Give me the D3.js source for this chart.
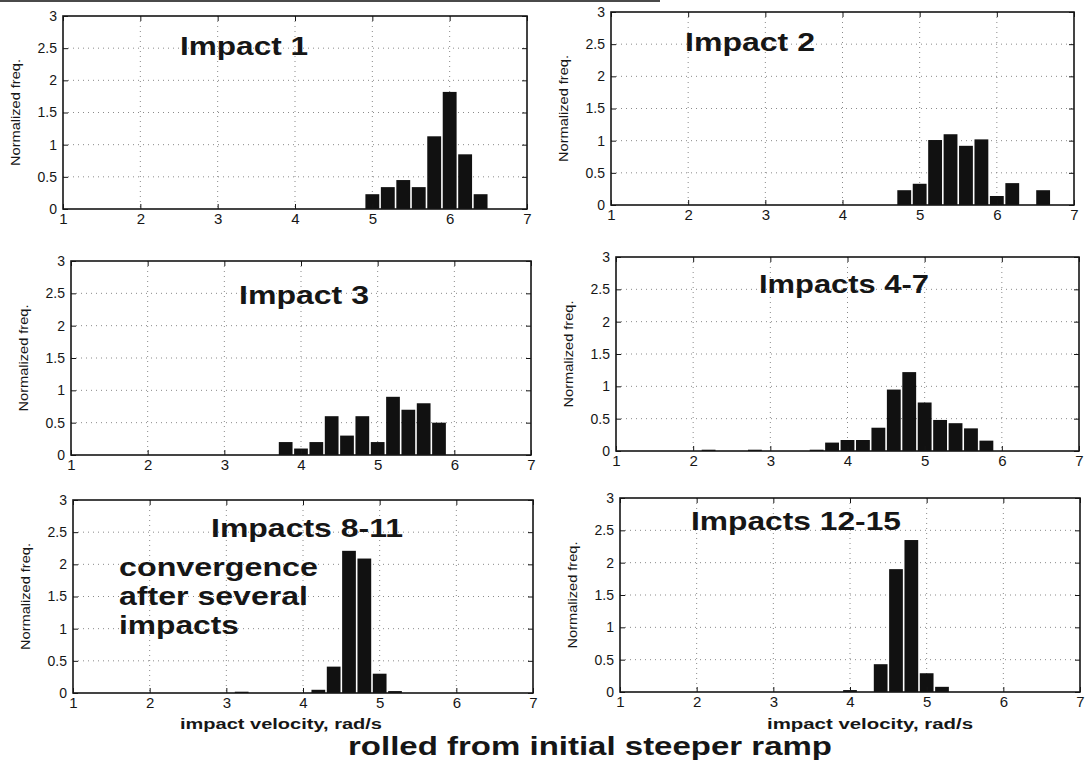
<!DOCTYPE html>
<html>
<head>
<meta charset="utf-8">
<script src="https://cdn.jsdelivr.net/npm/d3@7"></script>
<style>
  body { margin: 0; background: #fff; }
  svg { display: block; font-family: Arial, "Liberation Sans", sans-serif; }
</style>
</head>
<body>
<svg id="chart" width="1087" height="763"></svg>
<script>
// Histograms of impact velocity (rad/s), bin width 0.2, bins given by centre

const xTicks = [1, 2, 3, 4, 5, 6, 7];
const yTicks = [0, 0.5, 1, 1.5, 2, 2.5, 3];
const binWidth = 0.2;

const impact1Bins = [5.0, 5.2, 5.4, 5.6, 5.8, 6.0, 6.2, 6.4];
const impact1Freq = [0.23, 0.34, 0.45, 0.34, 1.13, 1.82, 0.85, 0.23];

const impact2Bins = [4.8, 5.0, 5.2, 5.4, 5.6, 5.8, 6.0, 6.2, 6.6];
const impact2Freq = [0.23, 0.33, 1.01, 1.10, 0.92, 1.02, 0.14, 0.34, 0.23];

const impact3Bins = [3.8, 4.0, 4.2, 4.4, 4.6, 4.8, 5.0, 5.2, 5.4, 5.6, 5.8];
const impact3Freq = [0.2, 0.1, 0.2, 0.6, 0.3, 0.6, 0.2, 0.9, 0.7, 0.8, 0.5];

const impacts4to7Bins = [2.2, 2.8, 3.6, 3.8, 4.0, 4.2, 4.4, 4.6, 4.8, 5.0, 5.2, 5.4, 5.6, 5.8];
const impacts4to7Freq = [0.02, 0.02, 0.02, 0.13, 0.17, 0.17, 0.36, 0.95, 1.22, 0.75, 0.48, 0.43, 0.35, 0.16];

const impacts8to11Bins = [3.2, 4.2, 4.4, 4.6, 4.8, 5.0, 5.2];
const impacts8to11Freq = [0.02, 0.05, 0.41, 2.21, 2.09, 0.30, 0.03];

const impacts12to15Bins = [4.0, 4.4, 4.6, 4.8, 5.0, 5.2];
const impacts12to15Freq = [0.03, 0.43, 1.90, 2.35, 0.29, 0.08];

const panelTitles = ["Impact 1", "Impact 2", "Impact 3", "Impacts 4-7", "Impacts 8-11", "Impacts 12-15"];
const yLabel = "Normalized freq.";
const xLabel = "impact velocity, rad/s";
const noteLines = ["convergence", "after several", "impacts"];
const footer = "rolled from initial steeper ramp";

// panel boxes [left, right, top, bottom] and title placement [x, baseline, width]
const panels = [
  { bins: impact1Bins, freq: impact1Freq, box: [63, 527, 16, 209], title: [180, 55, 128] },
  { bins: impact2Bins, freq: impact2Freq, box: [611, 1074, 12, 205], title: [685, 51, 130] },
  { bins: impact3Bins, freq: impact3Freq, box: [71, 531, 261, 455], title: [239, 304, 130] },
  { bins: impacts4to7Bins, freq: impacts4to7Freq, box: [616, 1079, 257, 451], title: [759, 293, 170] },
  { bins: impacts8to11Bins, freq: impacts8to11Freq, box: [73, 533, 500, 693], title: [211, 537, 192], xl: [180, 729, 202] },
  { bins: impacts12to15Bins, freq: impacts12to15Freq, box: [620, 1080, 498, 692], title: [691, 530, 210], xl: [767, 729, 206] }
];

const svg = d3.select("#chart");
const ink = "#161616";

// scanned page edge along the top
svg.append("rect").attr("x", 0).attr("y", 0).attr("width", 660).attr("height", 2).attr("fill", "#4a4a4a");

panels.forEach((p, i) => {
  const [x0, x1, yTop, yBot] = p.box;
  const x = d3.scaleLinear().domain([1, 7]).range([x0, x1]);
  const y = d3.scaleLinear().domain([0, 3]).range([yBot, yTop]);
  const g = svg.append("g");

  // dotted grid
  g.append("g").selectAll("line").data(xTicks.slice(1, -1)).join("line")
    .attr("x1", d => x(d)).attr("x2", d => x(d))
    .attr("y1", yTop).attr("y2", yBot)
    .attr("stroke", "#8a8a8a").attr("stroke-width", 1).attr("stroke-dasharray", "1,4");
  g.append("g").selectAll("line").data(yTicks.slice(1, -1)).join("line")
    .attr("x1", x0).attr("x2", x1)
    .attr("y1", d => y(d)).attr("y2", d => y(d))
    .attr("stroke", "#8a8a8a").attr("stroke-width", 1).attr("stroke-dasharray", "1,4");

  // bars
  const bw = x(1 + binWidth) - x(1);
  g.append("g").selectAll("rect").data(d3.zip(p.bins, p.freq)).join("rect")
    .attr("x", d => x(d[0] - binWidth / 2) + 0.8)
    .attr("width", bw - 1.6)
    .attr("y", d => y(d[1]))
    .attr("height", d => Math.max(yBot - y(d[1]), 0.8))
    .attr("fill", "#111");

  // axes, ticks pointing inward
  const styleAxis = sel => {
    sel.select(".domain").remove();
    sel.selectAll(".tick line").attr("stroke", ink).attr("stroke-width", 1);
    sel.selectAll(".tick text").attr("fill", ink);
  };
  g.append("g").attr("transform", `translate(0,${yBot})`)
    .call(d3.axisBottom(x).tickValues(xTicks).tickSize(-5).tickSizeOuter(0).tickPadding(4).tickFormat(d => d))
    .call(styleAxis)
    .selectAll("text").style("font-size", "15px").attr("font-family", null);
  g.append("g").attr("transform", `translate(${x0},0)`)
    .call(d3.axisLeft(y).tickValues(yTicks).tickSize(-5).tickSizeOuter(0).tickPadding(6).tickFormat(d => d))
    .call(styleAxis)
    .selectAll("text").style("font-size", "14px").attr("font-family", null);
  g.append("g").attr("transform", `translate(0,${yTop})`)
    .call(d3.axisTop(x).tickValues(xTicks).tickSize(-5).tickSizeOuter(0).tickFormat(""))
    .call(styleAxis);
  g.append("g").attr("transform", `translate(${x1},0)`)
    .call(d3.axisRight(y).tickValues(yTicks).tickSize(-5).tickSizeOuter(0).tickFormat(""))
    .call(styleAxis);

  // frame
  g.append("rect").attr("x", x0).attr("y", yTop).attr("width", x1 - x0).attr("height", yBot - yTop)
    .attr("fill", "none").attr("stroke", ink).attr("stroke-width", 1.6);

  // y title
  g.append("text")
    .attr("transform", `translate(${x0 - 43},${(yTop + yBot) / 2}) rotate(-90)`)
    .attr("text-anchor", "middle")
    .attr("textLength", 107).attr("lengthAdjust", "spacingAndGlyphs")
    .style("font-size", "13px").attr("fill", ink)
    .text(yLabel);

  // panel title
  g.append("text")
    .attr("x", p.title[0]).attr("y", p.title[1])
    .attr("textLength", p.title[2]).attr("lengthAdjust", "spacingAndGlyphs")
    .style("font-size", "26px").style("font-weight", "bold").attr("fill", ink)
    .text(panelTitles[i]);

  // x title on bottom row
  if (p.xl) {
    g.append("text")
      .attr("x", p.xl[0]).attr("y", p.xl[1])
      .attr("textLength", p.xl[2]).attr("lengthAdjust", "spacingAndGlyphs")
      .style("font-size", "14px").style("font-weight", "bold").attr("fill", ink)
      .text(xLabel);
  }
});

// annotation inside the Impacts 8-11 panel
const noteWidths = [199, 189, 120];
svg.append("g").selectAll("text").data(noteLines).join("text")
  .attr("x", 119)
  .attr("y", (d, i) => 576 + i * 29)
  .attr("textLength", (d, i) => noteWidths[i]).attr("lengthAdjust", "spacingAndGlyphs")
  .style("font-size", "26px").style("font-weight", "bold").attr("fill", ink)
  .text(d => d);

svg.append("text")
  .attr("x", 348).attr("y", 755)
  .attr("textLength", 484).attr("lengthAdjust", "spacingAndGlyphs")
  .style("font-size", "26px").style("font-weight", "bold").attr("fill", ink)
  .text(footer);
</script>
</body>
</html>
